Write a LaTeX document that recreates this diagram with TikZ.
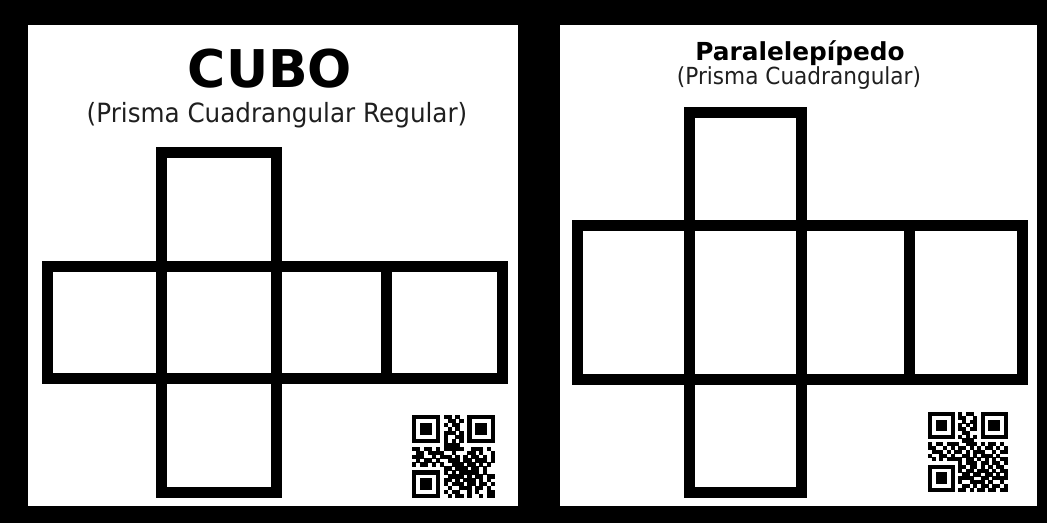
\documentclass[tikz,border=0pt]{standalone}
\usepackage{graphicx}
\usepackage{fontspec}
\setmainfont{DejaVu Sans}
\newcount\qrcol
\def\qrx{0}\def\qry{0}\def\qrm{4}
\def\qrparse#1{\ifx#1\relax\else\ifnum#1=1 \fill (\qrx+\the\qrcol*\qrm,\qry) rectangle ++(\qrm+0.3,\qrm+0.3);\fi\advance\qrcol by 1 \expandafter\qrparse\fi}
\newcommand\qrcode[4]{% x, y, module, rows
  \foreach \r/\s in {#4}{%
    \global\qrcol=0
    \pgfmathsetmacro\qry{#2+\r*#3}%
    \def\qrx{#1}\def\qrm{#3}%
    \expandafter\qrparse\s\relax}}
\tikzset{
  panel/.style={fill=white},
  net/.style={draw=black,line width=11pt},
  title/.style={anchor=base,inner sep=0pt,text=black,font=\bfseries},
  subtitle/.style={anchor=base,inner sep=0pt,text=black!88},
}
\begin{document}
\begin{tikzpicture}[x=1pt,y=-1pt]
\fill[black] (0,0) rectangle (1047,523);
\useasboundingbox (0,0) rectangle (1047,523);
% panels
\fill[panel] (28,25) rectangle (518,506);
\fill[panel] (560,25) rectangle (1037,506);
% titles
\node[title,font=\fontsize{52}{52}\selectfont\bfseries] (cubo) at (270,87) {CUBO};
\node[subtitle,font=\fontsize{26.5}{27}\selectfont] (cubosub) at (277,122) {\scalebox{0.93}[1]{(Prisma Cuadrangular Regular)}};
\node[title,font=\fontsize{24.8}{25}\selectfont\bfseries] (para) at (800,60) {Paralelepípedo};
\node[subtitle,font=\fontsize{23.5}{24}\selectfont] (parasub) at (799,84) {\scalebox{0.92}[1]{(Prisma Cuadrangular)}};
% cube net
\draw[net] (161,152.5) rectangle (276,492);
\draw[net] (47,266) rectangle (502,378);
\draw[net] (386.5,266) -- (386.5,378);
% prism net
\draw[net] (689,112.5) rectangle (801.5,492.5);
\draw[net] (577.5,225.5) rectangle (1022,379);
\draw[net] (909.5,225.5) -- (909.5,379);
% QR codes
\qrcode{412}{415}{3.95}{%
0/111111101101001111111,
1/100000100110101000001,
2/101110101011001011101,
3/101110100101001011101,
4/101110101110101011101,
5/100000101001101000001,
6/111111101010101111111,
7/000000001111000000000,
8/110110101111100111010,
9/011011110010001101001,
10/111001011101010110101,
11/010110100111011011101,
12/101101010011101101010,
13/000000001101110110100,
14/111111101010111110100,
15/100000100111101011011,
16/101110101101011101010,
17/101110101011101101101,
18/101110100100111011010,
19/100000101011001010011,
20/111111100101101001011}
\qrcode{928}{412}{3.78}{%
0/111111101011001111111,
1/100000101100101000001,
2/101110100101101011101,
3/101110101010101011101,
4/101110101101101011101,
5/100000100110001000001,
6/111111101010101111111,
7/000000000111000000000,
8/101101110011101011010,
9/110010101101010110101,
10/011101011010111001011,
11/100110100110101110100,
12/010101111011010101011,
13/000000001011101101101,
14/111111101101101010110,
15/100000101011011101011,
16/101110100110110110101,
17/101110101111001101111,
18/101110101001111010010,
19/100000100110101101101,
20/111111101101011011011}
\end{tikzpicture}
\end{document}
